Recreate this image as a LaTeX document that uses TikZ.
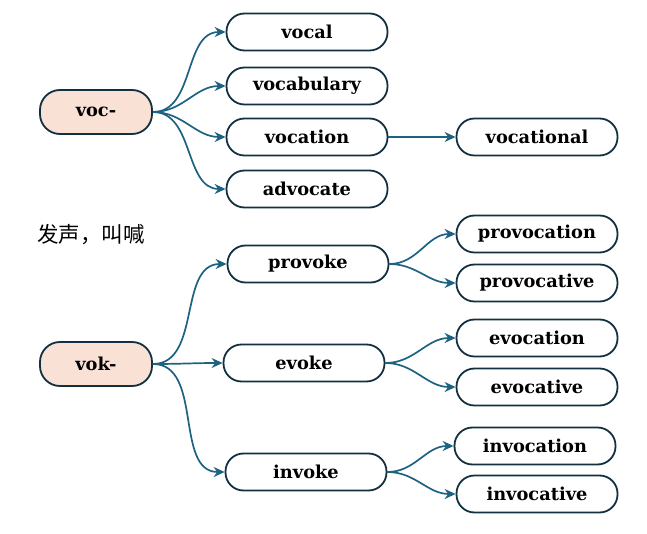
\documentclass[tikz,border=0pt]{standalone}
\usepackage{fontspec}
\setmainfont{DejaVu Serif}
\newfontfamily\cjk{Noto Sans CJK SC}
\usetikzlibrary{arrows.meta}
\definecolor{rootfill}{HTML}{F9E1D6}
\definecolor{nodeline}{HTML}{12303F}
\definecolor{arrowcol}{HTML}{1E6282}
\tikzset{
  word/.style={shape=rectangle,rounded corners=18pt,draw=nodeline,line width=1.8pt,
    minimum width=161pt,minimum height=37pt,inner sep=0pt,
    font=\bfseries\fontsize{17.8}{20}\selectfont},
  root/.style={word,fill=rootfill,minimum width=112pt,minimum height=44pt,rounded corners=20pt},
  branch/.style={draw=arrowcol,line width=1.7pt,-{Stealth[length=11pt,width=10pt]}}
}
\begin{document}
\begin{tikzpicture}[x=1pt,y=-1pt]
	\useasboundingbox (0,0) rectangle (647,534);

	% voc- group
	\node[root] (voc) at (96, 112)     {voc-};

	\node[word] (vocal) at (307, 32)     {vocal};
	\node[word] (vocabulary) at (307, 86)     {vocabulary};
	\node[word] (vocation) at (307, 137)     {vocation};
	\node[word] (advocate) at (307, 189)     {advocate};

	\node[word] (vocational) at (537, 137)     {vocational};

	\node[font=\cjk\fontsize{21.5}{24}\selectfont] (meaning) at (91, 235)     {发声，叫喊};

	% vok- group
	\node[root] (vok) at (96, 364)     {vok-};

	\node[word] (provoke) at (308, 264)     {provoke};
	\node[word] (evoke) at (304, 363)     {evoke};
	\node[word] (invoke) at (306, 472)     {invoke};

	\node[word] (provocation) at (537, 234)     {provocation};
	\node[word] (provocative) at (537, 283)     {provocative};
	\node[word] (evocation) at (537, 338)     {evocation};
	\node[word] (evocative) at (537, 387)     {evocative};
	\node[word] (invocation) at (535, 446)     {invocation};
	\node[word] (invocative) at (537, 494)     {invocative};

	\path (voc.east) edge[branch,out=0,in=180] (vocal.west);
	\path (voc.east) edge[branch,out=0,in=180] (vocabulary.west);
	\path (voc.east) edge[branch,out=0,in=180] (vocation.west);
	\path (voc.east) edge[branch,out=0,in=180] (advocate.west);
	\path (vocation) edge[branch] (vocational);

	\path (vok.east) edge[branch,out=0,in=180] (provoke.west);
	\path (vok.east) edge[branch,out=0,in=180] (evoke.west);
	\path (vok.east) edge[branch,out=0,in=180] (invoke.west);

	\path (provoke.east) edge[branch,out=0,in=180] (provocation.west);
	\path (provoke.east) edge[branch,out=0,in=180] (provocative.west);
	\path (evoke.east) edge[branch,out=0,in=180] (evocation.west);
	\path (evoke.east) edge[branch,out=0,in=180] (evocative.west);
	\path (invoke.east) edge[branch,out=0,in=180] (invocation.west);
	\path (invoke.east) edge[branch,out=0,in=180] (invocative.west);
\end{tikzpicture}
\end{document}
